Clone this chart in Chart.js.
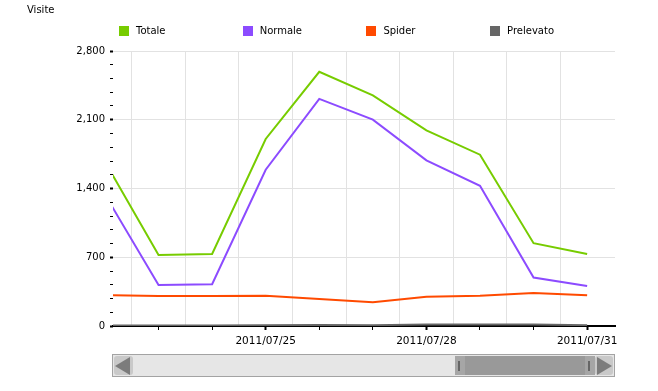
<!DOCTYPE html>
<html>
<head>
<meta charset="utf-8">
<script src="https://cdn.jsdelivr.net/npm/chart.js@4.4.1/dist/chart.umd.min.js"></script>
<style>
  body { margin: 0; background: #fff; font-family: "DejaVu Sans", Verdana, sans-serif; }
  #wrap { position: relative; width: 658px; height: 391px; overflow: hidden; }
  #myChart { position: absolute; left: 0; top: 0; }
  .txt { position: absolute; font-size: 10px; color: #000; white-space: nowrap; line-height: 12px; }
  .box { position: absolute; width: 10px; height: 10px; }
  .sb { position: absolute; }
</style>
</head>
<body>
<div id="wrap">
  <canvas id="myChart" width="658" height="391"></canvas>
  <div class="txt" style="left:27px; top:4px;">Visite</div>
  <div id="legend"></div>
  <div class="sb" style="left:112px; top:354px; width:501px; height:21px; border:1px solid #a3a3a3; background:#e6e6e6;"></div>
  <div class="sb" style="left:114px; top:356px; width:19px; height:19px; background:#c9c9c9; border-radius:3px;"></div>
  <div class="sb" style="left:115px; top:357px; width:0; height:0; border-top:9px solid transparent; border-bottom:9px solid transparent; border-right:15px solid #7c7c7c;"></div>
  <div class="sb" style="left:455px; top:356px; width:140px; height:19px; background:#a6a6a6;"></div>
  <div class="sb" style="left:465px; top:356px; width:120px; height:19px; background:#999;"></div>
  <div class="sb" style="left:458px; top:361px; width:2px; height:10px; background:#666;"></div>
  <div class="sb" style="left:588px; top:361px; width:2px; height:10px; background:#666;"></div>
  <div class="sb" style="left:595px; top:356px; width:18px; height:19px; background:#c9c9c9; border-radius:3px;"></div>
  <div class="sb" style="left:597px; top:357px; width:0; height:0; border-top:9px solid transparent; border-bottom:9px solid transparent; border-left:15px solid #7c7c7c;"></div>
</div>
<script>
const dates = ['2011/07/22', '2011/07/23', '2011/07/24', '2011/07/25', '2011/07/26',
               '2011/07/27', '2011/07/28', '2011/07/29', '2011/07/30', '2011/07/31'];
const totale = [1672, 724, 734, 1904, 2588, 2349, 1992, 1744, 843, 734];
const normale = [1338, 418, 425, 1591, 2312, 2101, 1686, 1428, 493, 408];
const spider = [314, 306, 306, 309, 275, 242, 299, 309, 337, 313];
const prelevato = [4, 6, 4, 8, 10, 8, 16, 16, 16, 8];
const labeledDays = ['2011/07/25', '2011/07/28', '2011/07/31'];
const yLabels = [0, 700, 1400, 2100, 2800];

const seriesNames = ['Totale', 'Normale', 'Spider', 'Prelevato'];
const seriesColors = ['#77cc00', '#8c4bff', '#ff4a00', '#666666'];

const toPoints = arr => arr.map((v, i) => ({ x: i, y: v }));
const allSeries = [totale, normale, spider, prelevato];

// legend in html, fixed spacing like the original
const legend = document.getElementById('legend');
seriesNames.forEach((name, i) => {
    const left = 119 + i * 123.7;
    const box = document.createElement('div');
    box.className = 'box';
    box.style.left = left + 'px';
    box.style.top = '26px';
    box.style.background = seriesColors[i];
    legend.appendChild(box);
    const t = document.createElement('div');
    t.className = 'txt';
    t.style.left = (left + 17) + 'px';
    t.style.top = '25px';
    t.textContent = name;
    legend.appendChild(t);
});

const ctx = document.getElementById('myChart').getContext('2d');
Chart.defaults.font.family = '"DejaVu Sans", Verdana, sans-serif';
Chart.defaults.font.size = 10;
Chart.defaults.color = '#000';

const isInt = v => Math.abs(v - Math.round(v)) < 1e-6;

new Chart(ctx, {
    type: 'line',
    data: {
        datasets: allSeries.map((arr, i) => ({
            label: seriesNames[i],
            data: toPoints(arr),
            borderColor: seriesColors[i],
            backgroundColor: seriesColors[i],
            borderWidth: 2,
            pointRadius: 0,
            tension: 0,
            order: 3 - i
        })).reverse()
    },
    options: {
        responsive: false,
        animation: false,
        events: [],
        layout: { padding: { left: 0, right: 43, top: 51, bottom: 0 } },
        plugins: { legend: { display: false }, tooltip: { enabled: false } },
        scales: {
            x: {
                type: 'linear',
                min: 0.15,
                max: 9.52,
                afterBuildTicks: scale => {
                    const t = [];
                    for (let v = 0.5; v <= 9.0; v += 0.5) t.push({ value: v });
                    scale.ticks = t;
                },
                afterFit: scale => { scale.height = 65; },
                ticks: {
                    autoSkip: false,
                    maxRotation: 0,
                    padding: 5,
                    font: { size: 10.5 },
                    callback: v => {
                        if (!isInt(v)) return '';
                        const d = dates[Math.round(v)];
                        return labeledDays.includes(d) ? d : '';
                    }
                },
                grid: {
                    drawOnChartArea: true,
                    tickLength: 4,
                    color: c => (c.tick && !isInt(c.tick.value)) ? '#e2e2e2' : 'rgba(0,0,0,0)',
                    tickColor: c => (c.tick && isInt(c.tick.value)) ? '#000' : 'rgba(0,0,0,0)',
                    tickWidth: c => (c.tick && labeledDays.includes(dates[Math.round(c.tick.value)])) ? 2 : 1,
                    lineWidth: 1
                },
                border: { display: true, color: '#000', width: 2 }
            },
            y: {
                min: 0,
                max: 2800,
                afterBuildTicks: scale => {
                    const t = [];
                    for (let v = 0; v <= 2800; v += 140) t.push({ value: v });
                    scale.ticks = t;
                },
                afterFit: scale => { scale.width = 113; },
                ticks: {
                    autoSkip: false,
                    padding: 5,
                    callback: v => yLabels.includes(v) ? v.toLocaleString('en-US') : ''
                },
                grid: {
                    tickLength: 3,
                    color: c => (c.tick && yLabels.includes(c.tick.value) && c.tick.value > 0) ? '#e2e2e2' : 'rgba(0,0,0,0)',
                    tickColor: '#000',
                    tickWidth: c => (c.tick && yLabels.includes(c.tick.value)) ? 2 : 1
                },
                border: { display: false }
            }
        }
    }
});
</script>
</body>
</html>
